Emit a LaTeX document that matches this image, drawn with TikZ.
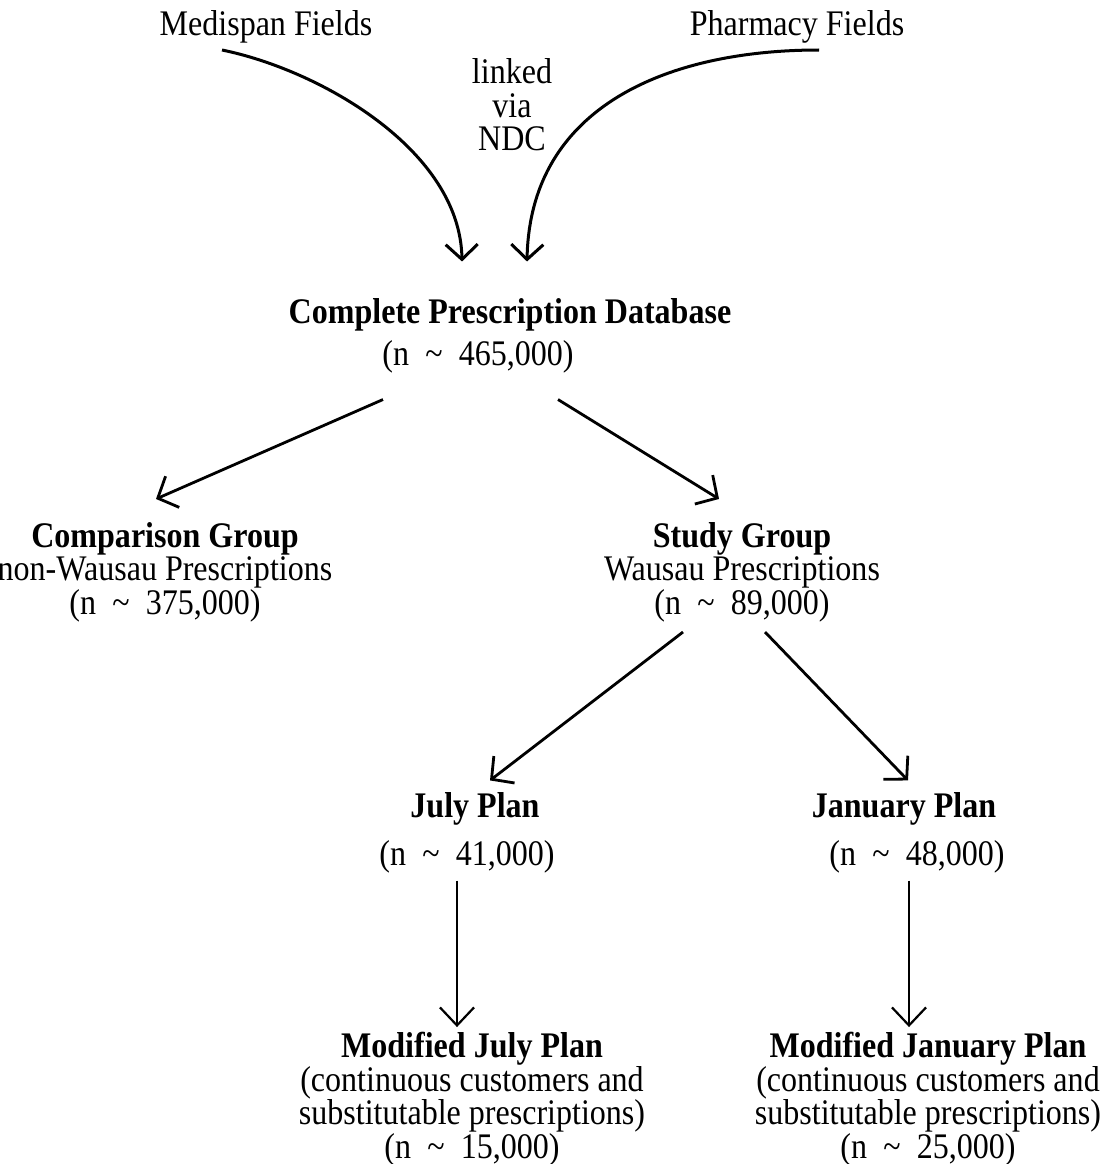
\documentclass[tikz,border=0pt]{standalone}
\usepackage{fontspec}
\setmainfont{Liberation Serif}[FakeStretch=0.89]
\usetikzlibrary{arrows.meta,positioning}
\newcommand{\approxn}{n\hspace{0.45em}\textasciitilde\hspace{0.45em}}

\begin{document}
\begin{tikzpicture}[x=1pt, y=-1pt,
    txt/.style={font=\fontsize{36}{33.5}\selectfont, inner sep=0pt, align=center},
    head/.style={txt, font=\fontsize{36}{33.5}\selectfont\bfseries},
    curve/.style={-{Straight Barb[length=15pt,width=32pt]}, line width=3pt},
    edge/.style={-{Straight Barb[length=16pt,width=34pt]}, line width=2.8pt},
    down/.style={-{Straight Barb[length=18pt,width=34pt]}, line width=2.2pt},
]
\useasboundingbox (0,0) rectangle (1104,1164);

% Sources
\node[txt] (med) at (266, 27) {Medispan Fields};
\node[txt] (pha) at (797, 27) {Pharmacy Fields};
\node[txt] (link) at (512, 105) {linked\\via\\NDC};

\coordinate (medout) at (222, 50);
\coordinate (phaout) at (819, 50);

% Database
\node[head] (db) at (510, 315) {Complete Prescription Database};
\node[txt] (dbn) at (478, 357) {(\approxn465,000)};

\draw[curve] (medout) .. controls (320, 70) and (460, 150) .. ([xshift=-48pt, yshift=37pt]db.north);
\draw[curve] (phaout) .. controls (670, 50) and (530, 105) .. ([xshift=17pt, yshift=37pt]db.north);

% Groups
\node[txt] (cmp) at (165, 572) {\textbf{Comparison Group}\\non-Wausau Prescriptions\\(\approxn375,000)};
\node[txt] (stu) at (742, 572) {\textbf{Study Group}\\Wausau Prescriptions\\(\approxn89,000)};

\draw[edge] ([xshift=-95pt, yshift=-26pt]dbn.south) -- ([xshift=-9pt, yshift=23pt]cmp.north);
\draw[edge] ([xshift=80pt, yshift=-26pt]dbn.south) -- ([xshift=-23pt, yshift=23pt]stu.north);

% Plans
\node[head] (jul) at (475, 809) {July Plan};
\node[txt] (juln) at (467, 857) {(\approxn41,000)};
\node[head] (jan) at (904, 809) {January Plan};
\node[txt] (jann) at (917, 857) {(\approxn48,000)};

\draw[edge] ([xshift=-59pt, yshift=-10pt]stu.south) -- ([xshift=15pt, yshift=12pt]jul.north);
\draw[edge] ([xshift=23pt, yshift=-10pt]stu.south) -- ([xshift=4pt, yshift=12pt]jan.north);

% Modified plans
\node[txt] (mjul) at (472, 1099) {\textbf{Modified July Plan}\\(continuous customers and\\substitutable prescriptions)\\(\approxn15,000)};
\node[txt] (mjan) at (928, 1099) {\textbf{Modified January Plan}\\(continuous customers and\\substitutable prescriptions)\\(\approxn25,000)};

\draw[down] ([xshift=-10pt, yshift=-7pt]juln.south) -- ([xshift=-15pt, yshift=5pt]mjul.north);
\draw[down] ([xshift=-8pt, yshift=-7pt]jann.south) -- ([xshift=-19pt, yshift=5pt]mjan.north);

\end{tikzpicture}
\end{document}
